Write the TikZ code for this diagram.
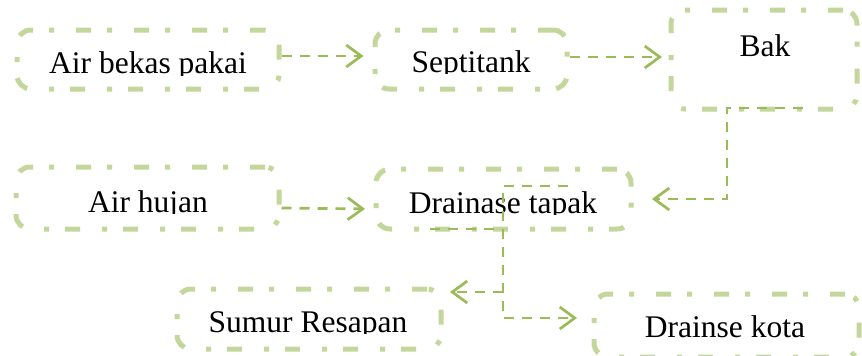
\documentclass[tikz,border=0pt]{standalone}
\usepackage{fontspec}
\setmainfont{Liberation Serif}
\usetikzlibrary{arrows.meta}
\definecolor{boxg}{HTML}{C3D69B}
\definecolor{arrg}{HTML}{9BBB59}
\newcommand\cliptext[5]{%
  \begin{scope}
    \clip (#2-150,#3-60) rectangle (#2+150,#3+#4);
    \node[txt,anchor=base] (#1) at (#2,#3) {#5};
  \end{scope}}
\begin{document}
\begin{tikzpicture}[x=1pt,y=-1pt,
  box/.style={draw=boxg, line width=5pt, rounded corners=14pt,
    dash pattern=on 15pt off 22pt on 5pt off 16pt, inner sep=0pt},
  txt/.style={font=\fontsize{31.5}{37}\selectfont, inner sep=0pt, text=black},
  arr/.style={draw=arrg, line width=2.7pt, dash pattern=on 10pt off 8pt,
    -{Straight Barb[length=15pt,width=22pt,line width=2.7pt]}},
  seg/.style={draw=arrg, line width=2.7pt, dash pattern=on 10pt off 8pt}]
\useasboundingbox (0,0) rectangle (862,356);

% boxes
\node[box, minimum width=262pt, minimum height=59pt] (b1) at (148,59.5) {};
\node[box, minimum width=192pt, minimum height=59pt] (b2) at (471,59.5) {};
\node[box, minimum width=186pt, minimum height=99pt] (b3) at (764,59.5) {};
\node[box, minimum width=263pt, minimum height=62pt] (b4) at (147.5,198) {};
\node[box, minimum width=255pt, minimum height=60pt] (b5) at (503.5,199) {};
\node[box, minimum width=264pt, minimum height=60pt] (b6) at (309,319) {};
\node[box, minimum width=265pt, minimum height=63pt] (b7) at (726.5,325.5) {};

% texts (clipped at the bottom as in the reference)
\cliptext{t1}{148}{73}{2}{Air bekas pakai}
\cliptext{t2}{471}{72}{1.5}{Septitank}
\cliptext{t3}{765}{56}{3}{Bak}
\cliptext{t4}{148}{212}{1.5}{Air hujan}
\cliptext{t5}{503}{213}{1.5}{Drainase tapak}
\cliptext{t6}{308}{332}{1.5}{Sumur Resapan}
\cliptext{t7}{725}{337}{6}{Drainse kota}

% connectors
\coordinate (c3a) at (803,108);
\coordinate (c3b) at (727,108);
\coordinate (c5a) at (568,186);
\coordinate (c5b) at (503,186);
\coordinate (c5c) at (503,292);
\coordinate (c5d) at (503,318);

\draw[arr, shorten >=9pt] ([yshift=3.5pt]b1.east) -- ([yshift=3.5pt]b2.west);
\draw[arr, shorten >=6.5pt] ([yshift=2.5pt]b2.east) -- ([yshift=2.5pt]b3.west);
\draw[arr] (c3a) -- (c3b) |- ([xshift=18.5pt]b5.east);
\draw[arr, shorten >=8.5pt] ([yshift=-10pt]b4.east) -- ([yshift=-10pt]b5.west);
\draw[arr, shorten >=14.5pt] (c5a) -- (c5b) -- (c5d) -- (b7.west |- c5d);
\draw[arr, shorten >=6.5pt] (c5c) -- (b6.east |- c5c);
\draw[seg] (430,229) -- (497,229);
\end{tikzpicture}
\end{document}
